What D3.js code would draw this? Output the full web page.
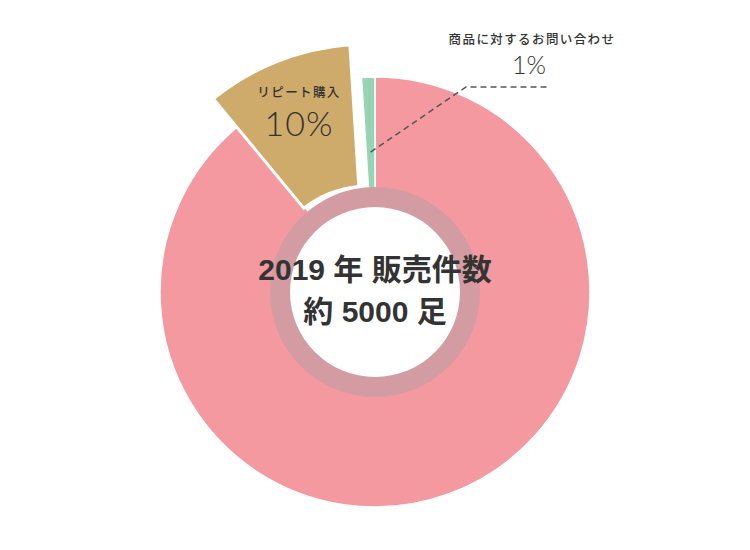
<!DOCTYPE html>
<html>
<head>
<meta charset="utf-8">
<script src="https://cdn.jsdelivr.net/npm/d3@7"></script>
<style>
  body { margin: 0; background: #fff; }
  svg { display: block; }
  text { font-family: "Noto Sans CJK JP", sans-serif; fill: #333; }
</style>
</head>
<body>
<svg id="chart"></svg>
<script>
// share of sales, %
const categories = ["その他", "リピート購入", "商品に対するお問い合わせ"];
const values = [89, 10, 1];
const pctLabels = ["", "10%", "1%"];
const colors = ["#f4999f", "#cfab6b", "#97d4b4"];
const centerLines = ["2019 年 販売件数", "約 5000 足"];

function drawDonut() {
  let w = 750, h = 550;
  let cx = 375, cy = 292;
  let outerRadius = 215;
  let ringRadius = 105, holeRadius = 85;

  let svg = d3.select("#chart")
    .attr("width", w)
    .attr("height", h);

  let pie = d3.pie().sort(null).value(d => d);
  let slices = pie(values);

  let arc = d3.arc().innerRadius(0).outerRadius(outerRadius);
  // the repeat-purchase slice is pulled out and made bigger
  let bigArc = d3.arc().innerRadius(104).outerRadius(246).padAngle(0.02);

  let g = svg.append("g").attr("transform", `translate(${cx},${cy})`);

  g.selectAll("path.slice")
    .data(slices)
    .enter()
    .append("path")
    .attr("class", "slice")
    .attr("fill", (d, i) => colors[i])
    .attr("stroke", "#fff")
    .attr("stroke-width", (d, i) => i == 1 ? 3 : 1.5)
    .attr("transform", (d, i) => i == 1 ? "translate(-7,-2)" : null)
    .attr("d", (d, i) => i == 1 ? bigArc(d) : arc(d));

  // ring + hole
  g.append("circle").attr("r", ringRadius).attr("fill", "#d39ca2");
  g.append("circle").attr("r", holeRadius).attr("fill", "#fff");

  // center text
  g.selectAll("text.center")
    .data(centerLines)
    .enter()
    .append("text")
    .attr("class", "center")
    .attr("text-anchor", "middle")
    .attr("y", (d, i) => -12 + i * 42)
    .style("font-family", "'Liberation Sans', 'Noto Sans CJK JP', sans-serif")
    .style("font-size", "30px")
    .style("font-weight", "bold")
    .text(d => d);

  // label on the 10% slice
  let tan = slices[1];
  let labelArc = d3.arc().innerRadius(190).outerRadius(190);
  let [lx, ly] = labelArc.centroid(tan);
  lx -= 6;
  g.append("text")
    .attr("x", lx).attr("y", ly - 18)
    .attr("text-anchor", "middle")
    .style("font-size", "12.5px")
    .style("font-weight", 500)
    .style("letter-spacing", "1.4px")
    .text(categories[1]);
  g.append("text")
    .attr("x", lx).attr("y", ly + 21)
    .attr("text-anchor", "middle")
    .style("font-family", "Lato, sans-serif")
    .style("font-size", "34px")
    .style("font-weight", 300)
    .style("letter-spacing", "1px")
    .text(pctLabels[1]);

  // leader line to the 1% slice
  let green = slices[2];
  let pointArc = d3.arc().innerRadius(140).outerRadius(140);
  let p0 = pointArc.centroid(green);
  let elbow = [466 - cx, 87 - cy];
  let end = [548 - cx, 87 - cy];
  g.append("path")
    .attr("d", d3.line()([p0, elbow, end]))
    .attr("fill", "none")
    .attr("stroke", "#555")
    .attr("stroke-width", 1.5)
    .attr("stroke-dasharray", "6,4");

  g.append("text")
    .attr("x", 532 - cx).attr("y", 44 - cy)
    .attr("text-anchor", "middle")
    .style("font-size", "12.5px")
    .style("font-weight", 500)
    .style("letter-spacing", "1.4px")
    .text(categories[2]);
  g.append("text")
    .attr("x", 529 - cx).attr("y", 74 - cy)
    .attr("text-anchor", "middle")
    .style("font-family", "Lato, sans-serif")
    .style("font-size", "25px")
    .style("font-weight", 300)
    .text(pctLabels[2]);
}

window.onload = function() {
  drawDonut();
};
</script>
</body>
</html>
